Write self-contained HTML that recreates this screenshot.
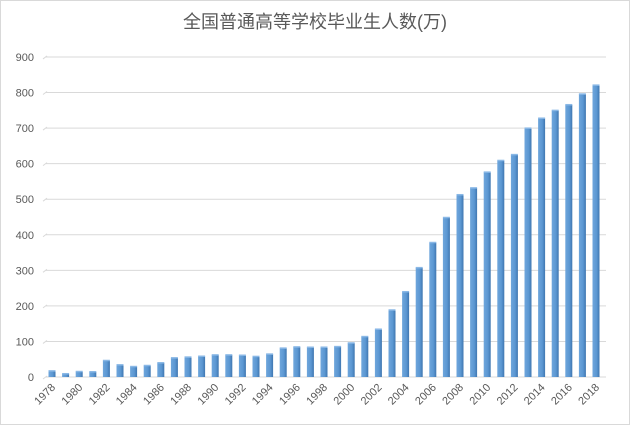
<!DOCTYPE html>
<html><head><meta charset="utf-8">
<style>
html,body{margin:0;padding:0;background:#fff;}
svg{display:block;}
text{font-family:"Liberation Sans","Noto Sans CJK SC",sans-serif;fill:#595959;}
</style></head>
<body>
<svg id="c" width="630" height="426" viewBox="0 0 630 426" xmlns="http://www.w3.org/2000/svg">
<defs>
<linearGradient id="g" x1="0" x2="1" y1="0" y2="0">
<stop offset="0" stop-color="#6fa6dc"/><stop offset="0.6" stop-color="#5b97d2"/><stop offset="1" stop-color="#3f76b0"/>
</linearGradient>
</defs>
<rect x="0.5" y="0.5" width="629" height="424" fill="#fff" stroke="#d9d9d9"/>
<text x="315" y="28" font-size="18" text-anchor="middle">全国普通高等学校毕业生人数(万)</text>
<g id="grid"></g>
<g id="bars"></g>
<g id="xl"></g>
</svg>
<script>
var ns="http://www.w3.org/2000/svg";
function el(t,a,p,txt){var e=document.createElementNS(ns,t);for(var k in a)e.setAttribute(k,a[k]);if(txt!=null)e.textContent=txt;p.appendChild(e);return e;}
var g=document.getElementById('grid'),b=document.getElementById('bars'),xl=document.getElementById('xl');
var y0=377,s=35.56/100;
for(var i=0;i<=9;i++){var y=y0-i*35.56;
el('line',{x1:46,x2:606,y1:y,y2:y,stroke:'#d9d9d9','stroke-width':1},g);
el('line',{x1:43,x2:47,y1:y+2,y2:y-1,stroke:'#d9d9d9','stroke-width':1},g);
el('text',{x:34,y:y+4,'font-size':11,'text-anchor':'end'},g,String(i*100));}
var v=[16.5,8.5,14.7,14,45.7,33.5,28.7,31.6,39.3,53.2,55.3,57.6,61.4,61.4,60.4,57.1,63.7,80.5,83.9,82.9,83,84.8,95,113,133.7,187.7,239.1,306.8,377.5,447.8,511.9,531.1,575.4,608.2,624.7,699,727,749,765,795,820];
for(var i=0;i<v.length;i++){var cx=52+i*13.6,h=v[i]*s;
el('rect',{x:cx-3.5,y:y0-h,width:7,height:h,fill:'url(#g)'},b);
el('rect',{x:cx-3.5,y:y0-h-1,width:7,height:1.5,fill:'#8ab8e6'},b);
if(i%2==0){var yr=1978+i;el('text',{x:0,y:0,'font-size':11,'text-anchor':'end',transform:'translate('+(cx+4)+',388) rotate(-45)'},xl,String(yr));}}
</script>
</body></html>
